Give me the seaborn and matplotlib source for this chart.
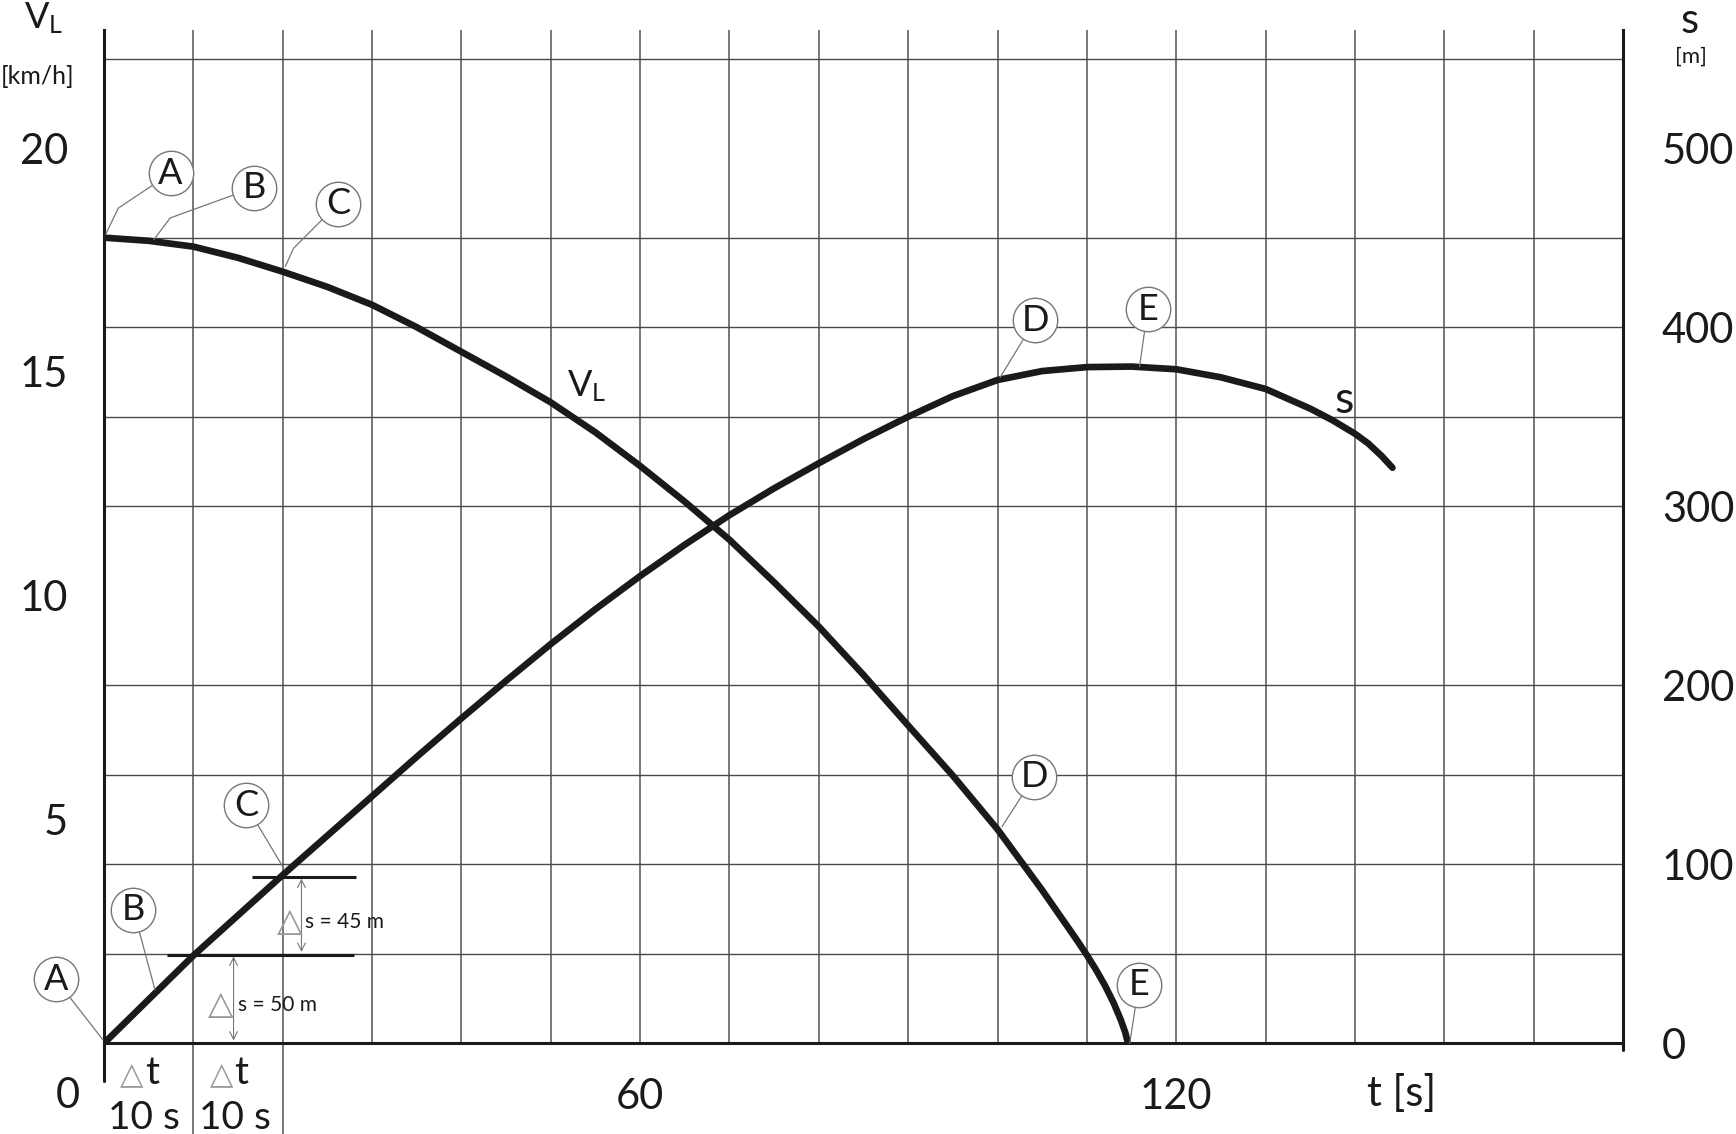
import matplotlib
matplotlib.use('Agg')
import matplotlib.pyplot as plt
import numpy as np
import pandas as pd
import seaborn as sns

# speed of the load v_L [km/h] over time t [s]
t_v = [0, 5, 10, 15, 20, 25, 30, 35, 40, 45, 50, 55, 60, 65, 70, 75, 80, 85,
       90, 95, 100, 105, 108, 109, 110, 111, 112, 113, 113.8, 114.3, 114.6]
v_l = [18.0, 17.93, 17.8, 17.55, 17.24, 16.9, 16.5, 16.0, 15.45, 14.9, 14.32,
       13.65, 12.9, 12.1, 11.25, 10.3, 9.31, 8.23, 7.1, 5.98, 4.78, 3.42, 2.56,
       2.27, 1.97, 1.65, 1.3, 0.9, 0.52, 0.24, 0.0]

# travelled distance s [m] over time t [s]
t_s = [0, 5, 10, 15, 20, 25, 30, 35, 40, 45, 50, 55, 60, 65, 70, 75, 80, 85,
       90, 95, 100, 105, 110, 115, 120, 125, 130, 135, 137.5, 140, 141.5, 143,
       144.2]
s_m = [0, 24.5, 49, 71.5, 94, 116, 138, 160, 181.5, 202.5, 223, 242.5, 261,
       278.5, 295, 310, 324, 337.5, 350, 361.5, 370.5, 375.5, 377.7, 378,
       376.5, 372, 365.5, 354.5, 348, 340.5, 335, 328, 321.5]

# axis labels
v_ticks = [5, 10, 15, 20]
s_ticks = [0, 100, 200, 300, 400, 500]
t_ticks = [60, 120]

# the two 10 s steps measured at the start of the s curve
step_s = [49.5, 93]
step_text = ['s = 50 m', 's = 45 m']

KMH_TO_M = 25      # 20 km/h on the left sits at 500 m on the right
T_MAX, S_MAX = 170, 566

W, H = 1736, 1134
FONT = ['Lato', 'DejaVu Sans']
GREY = '#777777'


def fig_xy(px, py):
    return px / W, 1 - py / H


sns.set_theme(style='white', rc={'text.color': 'k', 'axes.labelcolor': 'k'})
plt.rcParams['font.family'] = FONT
plt.rcParams['mathtext.default'] = 'regular'

fig = plt.figure(figsize=(W / 100, H / 100), dpi=100)
x0, y0 = fig_xy(104, 1043.3)
x1, y1 = fig_xy(1623, 30)
ax = fig.add_axes([x0, y0, x1 - x0, y1 - y0])
ax.set_xlim(0, T_MAX)
ax.set_ylim(0, S_MAX / KMH_TO_M)

# grid: 10 s vertically, 50 m (= 2 km/h) horizontally
grid_t = list(range(0, T_MAX + 1, 10))
ax.set_xticks(grid_t)
ax.set_xticklabels([str(t) if t in t_ticks else '' for t in grid_t])
ax.set_yticks(v_ticks)
ax.set_yticks(np.arange(0, S_MAX / KMH_TO_M, 2), minor=True)
ax.grid(True, axis='x', which='major', color=GREY, lw=1.4)
ax.grid(True, axis='y', which='minor', color='#4a4a4a', lw=1.0)
ax.grid(False, axis='y', which='major')
ax.tick_params(axis='x', which='major', length=6, width=1.4, color=GREY,
               direction='out', pad=19, labelsize=30, labelcolor='k')
ax.tick_params(axis='y', which='both', length=0, pad=26, labelsize=30, labelcolor='k')
ax.set_axisbelow(True)

for side in ['top', 'right']:
    ax.spines[side].set_visible(False)
for side in ['left', 'bottom']:
    ax.spines[side].set_color('k')
    ax.spines[side].set_linewidth(2.2)

# v_L on the left axis
df_v = pd.DataFrame({'t': t_v, 'v': v_l})
sns.lineplot(data=df_v, x='t', y='v', ax=ax, color='k', lw=4.8, legend=False)
ax.set_xlabel('')
ax.set_ylabel('')

# s on the right axis
ax2 = ax.twinx()
ax2.set_ylim(0, S_MAX)
df_s = pd.DataFrame({'t': t_s, 's': s_m})
sns.lineplot(data=df_s, x='t', y='s', ax=ax2, color='k', lw=4.8, legend=False)
ax2.set_xlabel('')
ax2.set_ylabel('')
ax2.set_yticks(s_ticks)
ax2.tick_params(axis='y', length=0, pad=28, labelsize=30, labelcolor='k')
ax2.grid(False)
for side in ['top', 'left', 'bottom']:
    ax2.spines[side].set_visible(False)
ax2.spines['right'].set_color('k')
ax2.spines['right'].set_linewidth(2.2)

# axis lines poking out below the plot
xt = ax.get_xaxis_transform()
ax.plot([0, 0], [-0.0375, 0], transform=xt, clip_on=False, color='k', lw=2.2)
ax.plot([T_MAX, T_MAX], [-0.007, 0], transform=xt, clip_on=False, color='k', lw=2.2)
ax.vlines([10, 20], -0.1, 0, transform=xt, clip_on=False, color=GREY, lw=1.4)

# axis titles
fig.text(*fig_xy(44, 18), '$V_L$', fontsize=26, ha='center', va='center')
fig.text(*fig_xy(38, 77), '[km/h]', fontsize=18, ha='center', va='center')
fig.text(*fig_xy(1690, 21), 's', fontsize=30, ha='center', va='center')
fig.text(*fig_xy(1691, 57), '[m]', fontsize=16, ha='center', va='center')
fig.text(*fig_xy(68, 1096), '0', fontsize=30, ha='center', va='center')
ax2.text(145.2, -28.3, 't [s]', fontsize=30, ha='center', va='center', clip_on=False)

# curve names
ax2.text(54, 367, '$V_L$', fontsize=26, ha='center', va='center')
ax2.text(138.8, 359, 's', fontsize=32, ha='center', va='center')

# circled point markers: letter, circle centre, optional kink, point on curve
callouts = [
    ('A', (7.45, 486), (1.6, 466.5), (0.2, 452)),
    ('B', (16.8, 478), (7.4, 461), (5.6, 449)),
    ('C', (26.2, 469), (21.2, 444), (20.3, 434)),
    ('D', (104.1, 149), None, (100.5, 121)),
    ('E', (115.8, 32.6), None, (114.8, 0)),
    ('A', (-5.4, 35.8), None, (-0.1, 1.8)),
    ('B', (3.3, 74.5), None, (5.7, 30)),
    ('C', (15.9, 133), None, (20.2, 97)),
    ('D', (104.2, 404), None, (100.3, 372)),
    ('E', (116.8, 410), None, (115.9, 378)),
]
for letter, centre, kink, end in callouts:
    pts = [centre] + ([kink] if kink else []) + [end]
    ax2.plot([p[0] for p in pts], [p[1] for p in pts], color=GREY, lw=0.9,
             clip_on=False, zorder=4)
    ax2.plot(*centre, 'o', ms=32, mfc='white', mec=GREY, mew=1.0,
             clip_on=False, zorder=5)
    ax2.text(*centre, letter, fontsize=26, ha='center', va='center', zorder=6)

# the two measured steps of 10 s
ax2.hlines([step_s[0]], 7.0, 28.0, color='k', lw=2.2, zorder=4)
ax2.hlines([step_s[1]], 16.6, 28.2, color='k', lw=2.2, zorder=4)
arrow = dict(arrowstyle='<->', color=GREY, lw=0.8, shrinkA=0, shrinkB=0,
             mutation_scale=14)
ax2.annotate('', xy=(14.5, 1.5), xytext=(14.5, step_s[0] - 1), arrowprops=arrow)
ax2.annotate('', xy=(22.1, step_s[0] + 1.5), xytext=(22.1, step_s[1] - 1),
             arrowprops=arrow)
for tri_t, txt_t, y, txt in [(11.6, 15.0, 21.4, step_text[0]),
                             (19.4, 22.5, 67.9, step_text[1])]:
    ax2.text(tri_t, y, '△', fontsize=24, color='#999999', ha='left', va='center')
    ax2.text(txt_t, y, txt, fontsize=15, ha='left', va='center')

for tri_t, lab_t in [(4.4, 4.5), (14.45, 14.6)]:
    ax2.text(tri_t, -17.5, '△', fontsize=22, color='#999999', ha='right',
             va='center', clip_on=False)
    ax2.text(tri_t + 0.15, -16.5, 't', fontsize=28, ha='left', va='center',
             clip_on=False)
    ax2.text(lab_t, -41.5, '10 s', fontsize=28, ha='center', va='center',
             clip_on=False)

fig.savefig('out.png', dpi=100)
